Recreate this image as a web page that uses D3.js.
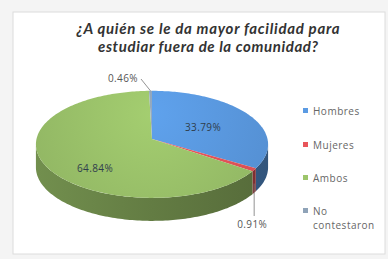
<!DOCTYPE html>
<html>
<head>
<meta charset="utf-8">
<script src="https://cdn.jsdelivr.net/npm/d3@7"></script>
<style>
  html, body { margin: 0; padding: 0; background: #fff; }
  svg { display: block; }
</style>
</head>
<body>
<div id="chart"></div>
<script>
// Data
const categories = ['Hombres', 'Mujeres', 'Ambos', 'No contestaron'];
const values = [33.79, 0.91, 64.84, 0.46];
const labels = ['33.79%', '0.91%', '64.84%', '0.46%'];
const colors = ['#5B9BE3', '#E8555A', '#9DC56B', '#8FA3B8'];
const titleLines = ['¿A quién se le da mayor facilidad para', 'estudiar fuera de la comunidad?'];

const width = 388, height = 259;
// apex of the pie and a small perspective so the front looks larger
const cx = 152, cy = 139, R = 115.5, A = 53, B = 0.1, depth = 23;

const svg = d3.select('#chart').append('svg')
  .attr('width', width).attr('height', height);

svg.append('rect').attr('width', width).attr('height', height).attr('fill', '#f4f4f4');
svg.append('rect').attr('x', 13).attr('y', 12).attr('width', 372).attr('height', 242)
  .attr('fill', '#fff').attr('stroke', '#dcdcdc').attr('stroke-width', 1);

const titleWidths = [263, 220];
svg.selectAll('text.title')
  .data(titleLines)
  .enter().append('text')
  .attr('class', 'title')
  .attr('x', 208)
  .attr('y', (d, i) => 34 + i * 18)
  .attr('text-anchor', 'middle')
  .attr('font-family', 'Lato, "Open Sans", sans-serif')
  .attr('font-style', 'italic')
  .attr('font-weight', 'bold')
  .attr('font-size', 15)
  .attr('textLength', (d, i) => titleWidths[i])
  .attr('lengthAdjust', 'spacing')
  .attr('fill', '#333')
  .text(d => d);

const pie = d3.pie().sort(null).value(d => d)(values);

// rim point, angle 0 = back (top), clockwise
function pt(a, dy = 0) {
  const s = 1 / (1 + B * Math.cos(a));
  return [cx + R * Math.sin(a) * s, cy - A * Math.cos(a) * s + dy];
}
function rim(a0, a1, dy = 0) {
  const n = Math.max(2, Math.ceil((a1 - a0) / 0.02));
  return d3.range(n + 1).map(k => pt(a0 + (a1 - a0) * k / n, dy));
}
const line = d3.line();

const aL = Math.acos(-B), aR = 2 * Math.PI - aL;
function wallPts(d) {
  const s = Math.max(d.startAngle, aL), e = Math.min(d.endAngle, aR);
  if (e <= s) return null;
  return rim(s, e).concat(rim(s, e, depth).reverse());
}

const defs = svg.append('defs');
colors.forEach((c, i) => {
  const g = defs.append('linearGradient').attr('id', 'wall' + i)
    .attr('gradientUnits', 'userSpaceOnUse')
    .attr('x1', cx - R).attr('x2', cx + R).attr('y1', 0).attr('y2', 0);
  g.append('stop').attr('offset', '0%').attr('stop-color', d3.color(c).darker(0.9));
  g.append('stop').attr('offset', '50%').attr('stop-color', d3.color(c).darker(1.3));
  g.append('stop').attr('offset', '100%').attr('stop-color', d3.color(c).darker(1.7));
  const t = defs.append('radialGradient').attr('id', 'top' + i)
    .attr('gradientUnits', 'userSpaceOnUse')
    .attr('cx', cx).attr('cy', cy - 25).attr('r', R * 1.1);
  t.append('stop').attr('offset', '0%').attr('stop-color', d3.color(c).brighter(0.12));
  t.append('stop').attr('offset', '100%').attr('stop-color', d3.color(c).darker(0.2));
});

svg.selectAll('path.wall')
  .data(pie.filter(d => wallPts(d)))
  .enter().append('path')
  .attr('class', 'wall')
  .attr('d', d => line(wallPts(d)) + 'Z')
  .attr('fill', d => `url(#wall${d.index})`);

svg.selectAll('path.top')
  .data(pie)
  .enter().append('path')
  .attr('class', 'top')
  .attr('d', d => line([[cx, cy]].concat(rim(d.startAngle, d.endAngle))) + 'Z')
  .attr('fill', d => `url(#top${d.index})`);

const labelFont = '"Open Sans", Lato, sans-serif';

const inside = [{ i: 0, x: 203, y: 131 }, { i: 2, x: 95, y: 172 }];
svg.selectAll('text.inside')
  .data(inside)
  .enter().append('text')
  .attr('x', d => d.x).attr('y', d => d.y)
  .attr('text-anchor', 'middle')
  .attr('font-family', labelFont)
  .attr('font-size', 10)
  .attr('letter-spacing', 0.4)
  .attr('fill', '#2f3d4c')
  .text(d => labels[d.i]);

const mid = d => (d.startAngle + d.endAngle) / 2;
const m1 = pt(mid(pie[1]), depth * 0.6);
svg.append('path')
  .attr('d', `M${m1}L${m1[0]},216`)
  .attr('stroke', '#777').attr('stroke-width', 0.8).attr('fill', 'none');
svg.append('text').attr('x', m1[0] - 2).attr('y', 228)
  .attr('text-anchor', 'middle')
  .attr('font-family', labelFont).attr('font-size', 10).attr('letter-spacing', 0.4)
  .attr('fill', '#555')
  .text(labels[1]);

const m3 = pt(mid(pie[3]));
svg.append('path')
  .attr('d', `M141,79L${m3}`)
  .attr('stroke', '#777').attr('stroke-width', 0.8).attr('fill', 'none');
svg.append('text').attr('x', 123).attr('y', 82)
  .attr('text-anchor', 'middle')
  .attr('font-family', labelFont).attr('font-size', 10).attr('letter-spacing', 0.4)
  .attr('fill', '#555')
  .text(labels[3]);

const legendY = [111, 145, 178, 211];
const lg = svg.selectAll('g.legend')
  .data(categories)
  .enter().append('g')
  .attr('transform', (d, i) => `translate(305,${legendY[i]})`);
lg.append('rect').attr('x', -2).attr('y', -3).attr('width', 5).attr('height', 5)
  .attr('fill', (d, i) => colors[i]);
lg.append('text')
  .attr('x', 8).attr('y', 3.5)
  .attr('font-family', labelFont).attr('font-size', 10).attr('letter-spacing', 0.5)
  .attr('fill', '#666')
  .each(function (d) {
    const words = d.split(' ');
    d3.select(this).selectAll('tspan').data(words).enter().append('tspan')
      .attr('x', 8).attr('dy', (w, j) => j ? 14 : 0).text(w => w);
  });
</script>
</body>
</html>
